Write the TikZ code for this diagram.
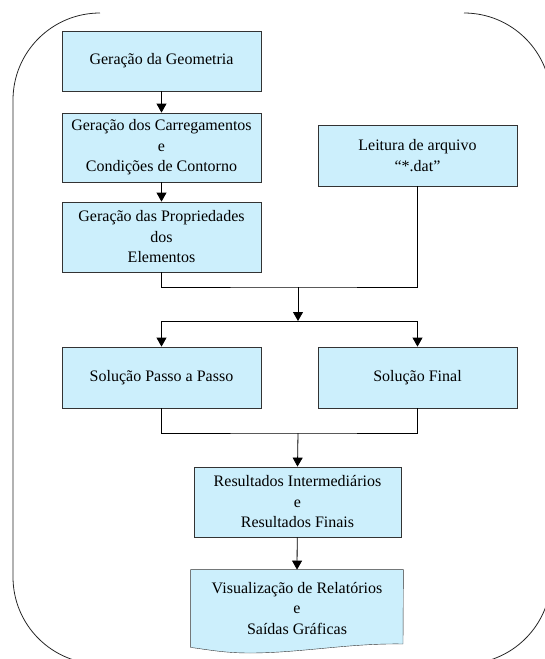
\documentclass[tikz,border=0pt]{standalone}
\usepackage{fontspec}
\setmainfont{Liberation Serif}
\usepackage{tikz}
\usetikzlibrary{arrows.meta, backgrounds, calc}

\begin{document}
\begin{tikzpicture}[
    x=1pt, y=-1pt,
    line width=0.8pt,
    box/.style={draw=black!80, fill=cyan!20, align=center, inner sep=2pt,
        minimum width=199pt, minimum height=61pt,
        font=\fontsize{16}{20.5}\selectfont},
    arr/.style={-{Triangle[length=9pt,width=10pt]}},
    frame/.style={draw=black!85, rounded corners=87pt}
]
    \useasboundingbox (0,0) rectangle (545,659);
    \clip (0,0) rectangle (545,659);

    % Outer frame, open at the top.
    \draw[frame] (100,13) -- (13,13) -- (13,664) -- (551,664) -- (551,13) -- (464,13);

    \node[box, minimum height=60pt] (geom) at (161.5,61) {Geração da Geometria};
    \node[box, minimum height=69pt] (carga) at (161.5,147.5) {Geração dos Carregamentos\\e\\Condições de Contorno};
    \node[box, minimum height=70pt] (prop) at (161.5,237) {Geração das Propriedades\\dos\\Elementos};
    \node[box] (leitura) at (417.5,155.5) {Leitura de arquivo\\“*.dat”};
    \node[box] (passo) at (161.5,377.5) {Solução Passo a Passo};
    \node[box] (final) at (417.5,377.5) {Solução Final};
    \node[box, minimum width=207pt, minimum height=70pt] (res) at (297.5,502) {Resultados Intermediários\\e\\Resultados Finais};
    \node[box, draw=none, fill=none, minimum width=212pt, minimum height=77pt] (vis) at (297,608.5) {Visualização de Relatórios\\e\\Saídas Gráficas};
    \begin{scope}[on background layer]
        \draw[draw=black!80, fill=cyan!20] (vis.north west) -- (vis.north east) -- (403,644)
            .. controls (350,643) and (300,653) .. (250,653)
            .. controls (225,653) and (210,650) .. (vis.south west) -- cycle;
    \end{scope}

    \coordinate (j1) at (298,287);
    \coordinate (j2) at (298,321);
    \coordinate (j3) at (298,433);

    \draw[arr] (geom) -- (carga);
    \draw[arr] (carga) -- (prop);
    \draw (prop.south) |- (j1) -| (leitura.south);
    \draw[arr] (j1) -- (j2);
    \draw[arr] (j2) -| (passo.north);
    \draw[arr] (j2) -| (final.north);
    \draw (passo.south) |- (j3) -| (final.south);
    \draw[arr] (j3) -- (res.north);
    \draw[arr] (res) -- (vis.north);
\end{tikzpicture}
\end{document}
